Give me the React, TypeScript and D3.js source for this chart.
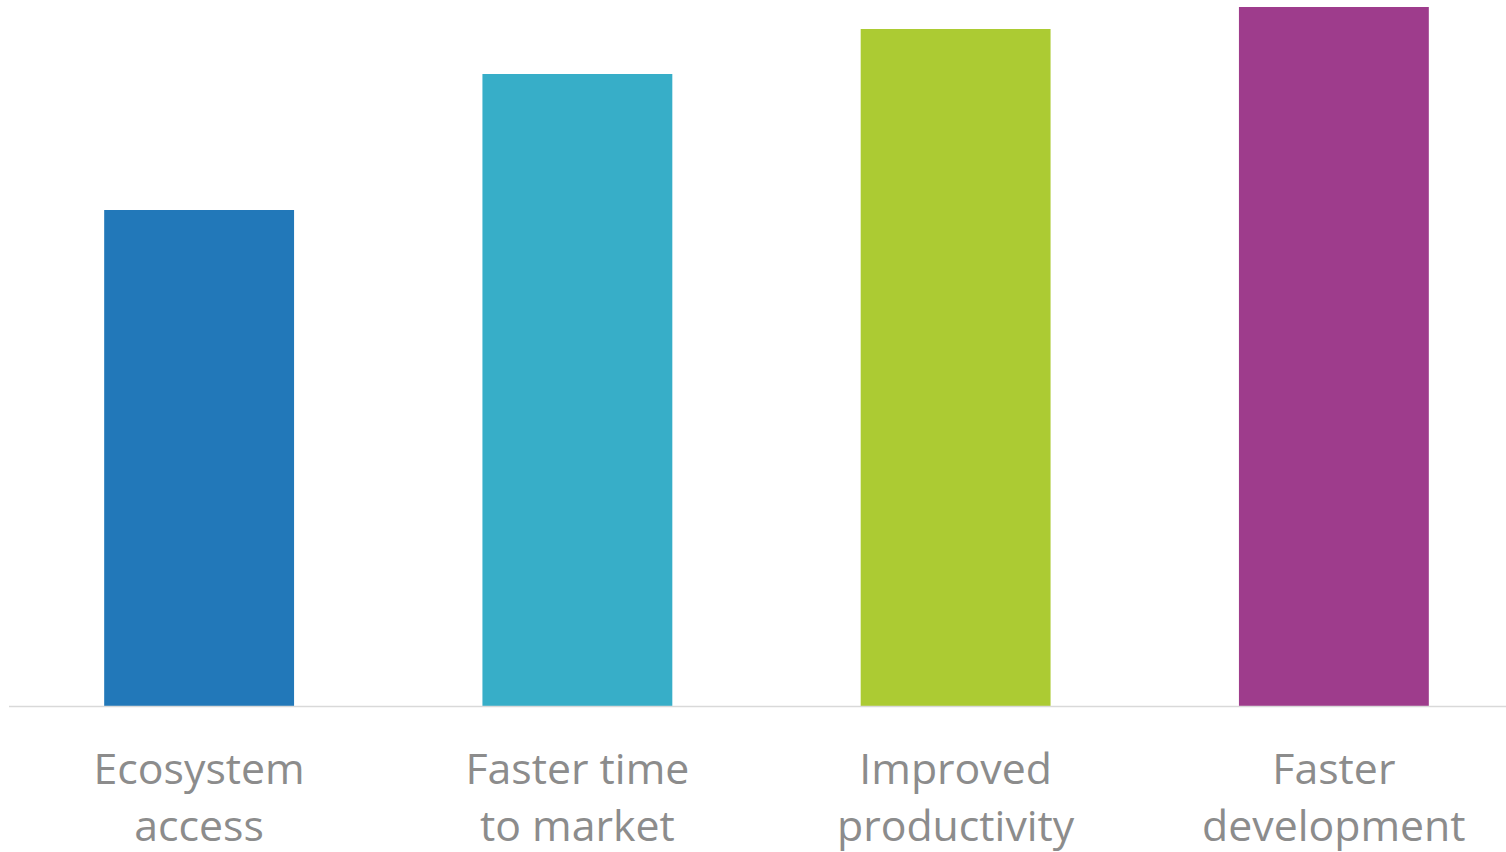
import React from "react";
import * as d3 from "d3";

const categories = ["Ecosystem access", "Faster time to market", "Improved productivity", "Faster development"];
const labelLines = [["Ecosystem", "access"], ["Faster time", "to market"], ["Improved", "productivity"], ["Faster", "development"]];
const values = [49.6, 63.2, 67.7, 69.9];
const colors = ["#2278b9", "#37aec8", "#accb33", "#9e3c8c"];

const W = 1506;
const H = 852;

export default function App() {
  const x = d3.scaleBand<string>().domain(categories).range([10, 1523]).paddingInner(0.498).paddingOuter(0.249);
  const y = d3.scaleLinear().domain([0, 70]).range([706, 6]);
  return (
    <svg width={W} height={H} style={{ position: "absolute", left: 0, top: 0, background: "#fff" }}>
      {categories.map((c, i) => (
        <rect key={c} x={x(c)} y={y(values[i])} width={x.bandwidth()} height={y(0) - y(values[i])} fill={colors[i]} />
      ))}
      <line x1={9} x2={W} y1={706.5} y2={706.5} stroke="#d9d9d9" strokeWidth={1.5} />
      {categories.map((c, i) => (
        <text key={c} x={(x(c) as number) + x.bandwidth() / 2} textAnchor="middle" fontFamily="'Open Sans', sans-serif" fontSize={42.8} fill="#8c8c8c">
          {labelLines[i].map((l, j) => (
            <tspan key={j} x={(x(c) as number) + x.bandwidth() / 2} y={783.5 + j * 57}>{l}</tspan>
          ))}
        </text>
      ))}
    </svg>
  );
}
